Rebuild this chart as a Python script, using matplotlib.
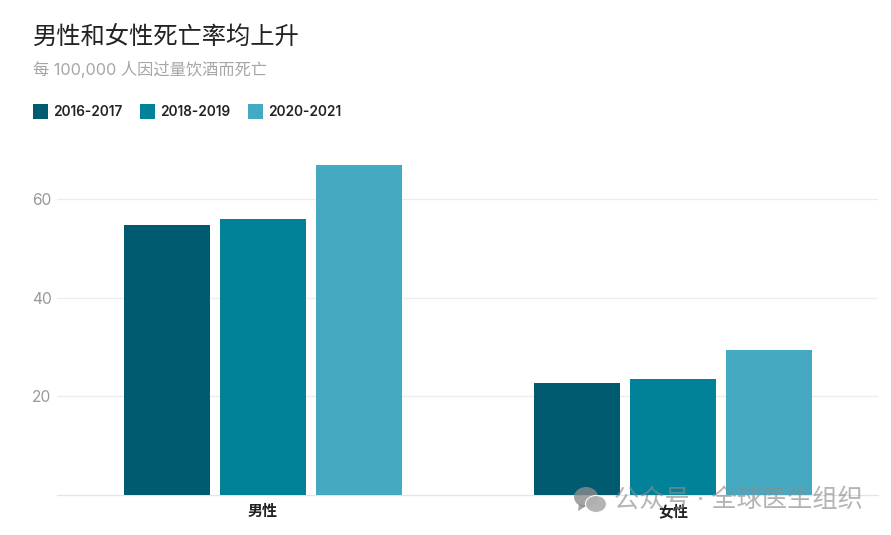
import matplotlib
matplotlib.use("Agg")
import matplotlib.pyplot as plt
from matplotlib.patches import Ellipse, Rectangle, Polygon

plt.rcParams['font.family'] = ['Inter', 'Noto Sans CJK SC', 'DejaVu Sans']

# данные
groups = ["男性", "女性"]
periods = ["2016-2017", "2018-2019", "2020-2021"]
men = [54.8, 56.0, 67.0]
women = [22.7, 23.5, 29.4]
colors = ["#005a70", "#028299", "#46a9c2"]
yticks = [20, 40, 60]

W, H = 891, 535
fig = plt.figure(figsize=(W / 100, H / 100), dpi=100)
ax = fig.add_axes([57 / W, 1 - 495 / H, (878 - 57) / W, (495 - 140) / H])


def fx(px):
    return px / W


def fy(py):
    return 1 - py / H


# столбцы
bar_w = 0.21
step = 0.234
for i, name in enumerate(periods):
    vals = [men[i], women[i]]
    xs = [g + (i - 1) * step for g in range(len(groups))]
    ax.bar(xs, vals, width=bar_w, color=colors[i], zorder=3, label=name)

ax.set_xlim(-0.502, 1.5)
ax.set_ylim(0, 355 / 4.93)
ax.set_yticks(yticks)
ax.set_xticks(range(len(groups)))
ax.set_xticklabels(groups, fontsize=10.8, fontweight="bold", color="#222222")
ax.tick_params(axis="x", length=0, pad=7)
ax.tick_params(axis="y", length=0, pad=4, labelsize=11.2, labelcolor="#999999")
ax.grid(axis="y", color="#ececec", linewidth=0.9, zorder=0)
for s in ["top", "left", "right"]:
    ax.spines[s].set_visible(False)
ax.spines["bottom"].set_color("#e4e4e4")
ax.spines["bottom"].set_linewidth(0.9)

# заголовки
fig.text(fx(33), fy(37), "男性和女性死亡率均上升", fontsize=17.5, color="#222222", va="center")
fig.text(fx(33), fy(70), "每 100,000 人因过量饮酒而死亡", fontsize=11.7, color="#a6a6a6", va="center")

# легенда
legend_x = [33, 140, 248]
for x0, name, c in zip(legend_x, periods, colors):
    fig.add_artist(Rectangle((fx(x0), fy(119)), 15 / W, 15 / H, transform=fig.transFigure,
                             facecolor=c, edgecolor="none"))
    fig.text(fx(x0 + 20.5), fy(111.5), name, fontsize=9.8, fontweight="semibold", color="#222222", va="center")

# водяной знак
wm = "#8c8c8c"
fig.add_artist(Ellipse((fx(586), fy(497)), 24 / W, 20 / H, transform=fig.transFigure,
                       facecolor=wm, edgecolor="none", alpha=0.8, zorder=10))
fig.add_artist(Polygon([(fx(579), fy(504)), (fx(578), fy(511)), (fx(586), fy(506))],
                       transform=fig.transFigure, facecolor=wm, edgecolor="none", alpha=0.8, zorder=10))
fig.add_artist(Ellipse((fx(596), fy(504)), 21 / W, 17 / H, transform=fig.transFigure,
                       facecolor="#b0b0b0", edgecolor="white", linewidth=0.8, alpha=0.95, zorder=11))
fig.text(fx(614), fy(500), "公众号 · 全球医生组织", fontsize=18.2, color=wm, alpha=0.65, va="center", zorder=12)

fig.savefig("out.png", dpi=100)
